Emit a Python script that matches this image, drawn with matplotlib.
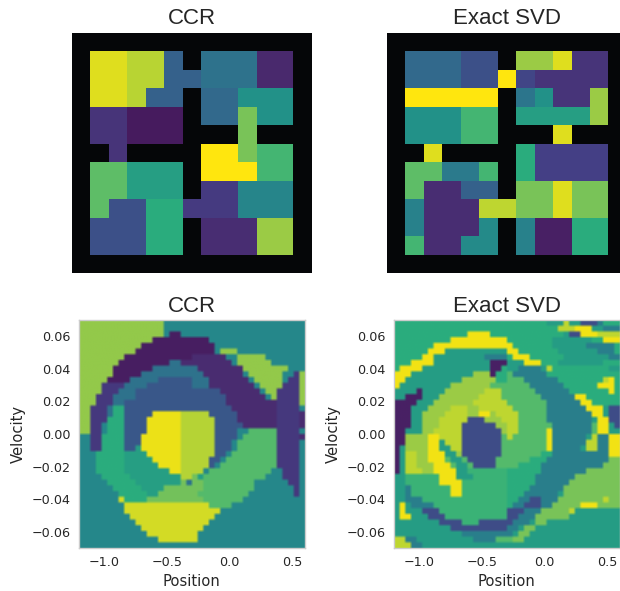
import re
import numpy as np
import matplotlib
matplotlib.use('Agg')
import matplotlib.pyplot as plt
from matplotlib.colors import LinearSegmentedColormap

W = np.nan

# colours of the printed viridis, read at even steps from 0 to 1
palette = ['#440f50', '#4a2a6e', '#443f85', '#35628c', '#2b7a8c', '#229189',
           '#2bad7d', '#5dbd68', '#93c94a', '#bdd631', '#ffe60e']

# gridworld value maps, 13x13, W is a wall
ccr_rooms = [
    [W, W, W, W, W, W, W, W, W, W, W, W, W],
    [W, .95, .95, .89, .89, .30, W, .37, .37, .37, .10, .10, W],
    [W, .95, .95, .89, .89, .30, .30, .37, .37, .37, .10, .10, W],
    [W, .95, .95, .89, .30, .30, W, .33, .33, .50, .50, .50, W],
    [W, .15, .15, .05, .05, .05, W, .33, .33, .75, .50, .50, W],
    [W, .15, .15, .05, .05, .05, W, W, W, .75, W, W, W],
    [W, W, .15, W, W, W, W, 1.0, 1.0, .75, .65, .65, W],
    [W, .70, .70, .55, .55, .55, W, 1.0, 1.0, 1.0, .65, .65, W],
    [W, .70, .70, .55, .55, .55, W, .18, .18, .45, .45, .45, W],
    [W, .70, .25, .25, .60, .60, .18, .18, .18, .45, .45, .45, W],
    [W, .25, .25, .25, .60, .60, W, .12, .12, .12, .82, .82, W],
    [W, .25, .25, .25, .60, .60, W, .12, .12, .12, .82, .82, W],
    [W, W, W, W, W, W, W, W, W, W, W, W, W],
]
svd_rooms = [
    [W, W, W, W, W, W, W, W, W, W, W, W, W],
    [W, .33, .33, .33, .25, .25, W, .82, .82, .95, .15, .15, W],
    [W, .33, .33, .33, .25, .25, 1.0, .22, .15, .15, .15, .15, W],
    [W, 1.0, 1.0, 1.0, 1.0, 1.0, W, .38, .50, .15, .15, .82, W],
    [W, .50, .50, .50, .65, .65, W, .55, .55, .55, .55, .82, W],
    [W, .50, .50, .50, .65, .65, W, W, W, .95, W, W, W],
    [W, W, .95, W, W, W, W, .60, .20, .20, .20, .20, W],
    [W, .70, .70, .40, .40, .65, W, .60, .20, .20, .20, .20, W],
    [W, .70, .12, .12, .30, .30, W, .75, .75, .95, .75, .75, W],
    [W, .43, .12, .12, .12, .90, .90, .75, .75, .95, .75, .75, W],
    [W, .43, .12, .12, .12, .47, W, .43, .07, .07, .60, .60, W],
    [W, .65, .12, .12, .47, .47, W, .43, .07, .07, .60, .60, W],
    [W, W, W, W, W, W, W, W, W, W, W, W, W],
]

# mountain car maps, 40x40 cells, letter + run length, top row first
ccr_levels = dict(g=.80, t=.46, p=.06, q=.11, v=.17, b=.27, c=.37, y=.97, l=.88,
                  m=.60, n=.55, G=.68, h=.74, L=.93)
ccr_rows = [
    'g15 t25',
    'g15 t25',
    'g15 t1 p2 t22',
    'g13 p10 t17',
    'g11 p13 t16',
    'g10 p14 t1 g3 t12',
    'g8 p12 q6 t2 g5 t7',
    'g7 p9 c2 q9 t1 g6 t6',
    'g6 p7 c8 q8 g8 t3',
    'g6 p5 c11 q7 t1 g6 t2 v1 g1',
    'g5 p4 c5 b6 c3 q7 t1 g5 t1 v2 g1',
    'g4 v4 c4 b8 c3 q8 t1 g4 v3 g1',
    'g4 v3 c3 b15 q7 t1 g2 v4 g1',
    'g3 v3 c4 b16 q7 t1 g1 v4 g1',
    'g3 v3 c2 b18 q9 v4 g1',
    'g2 v3 c1 m2 b19 q8 v4 t1',
    'g2 v3 c1 m2 b5 y5 l5 b5 q7 v4 q1',
    'g2 v3 m3 b4 y6 l6 b4 q7 v4 q1',
    'g2 v2 t1 m3 b4 y6 l6 b5 q6 v4 q1',
    'g2 v2 t1 m3 b4 y6 l6 b4 t2 G5 v4 t1',
    't2 v2 m4 b3 y7 l6 b4 t1 G6 v4 q1',
    't2 v2 m4 b3 y7 l6 b3 t1 G7 v4 t1',
    't2 v2 m4 b2 n1 y7 l6 b3 t1 G7 v4 t1',
    't3 m5 n4 y6 l6 b2 t1 G8 v4 t1',
    't3 m5 n5 y5 l5 b2 t1 G9 v4 t1',
    't3 m5 n6 y4 l5 b1 t1 G10 v4 t1',
    't3 m5 n8 y2 l4 t1 G11 t2 v3 t1',
    't4 m5 n9 l2 h1 n1 G11 t3 v3 t1',
    't5 m5 n8 h1 c1 h2 G9 t6 v2 t1',
    't6 m5 n4 h7 G9 t7 v1 t1',
    't7 m5 n2 h7 G9 t8 v1 t1',
    't7 L1 m4 h10 G7 t11',
    't8 L15 G4 t13',
    't8 L17 t15',
    't9 L15 t16',
    't10 L13 t17',
    't11 L11 t18',
    't12 L9 t19',
    't14 L7 t19',
    't40',
]

svd_levels = dict(a=.60, s=.54, y=.98, e=.82, l=.90, P=.07, B=.24, d=.42,
                  k=.68, K=.63, h=.75)
svd_rows = [
    'a20 a7 s3 l1 s2 B3 d1 a3',
    'a20 a9 l3 y3 s2 d3',
    'a13 y4 a3 a10 s1 B2 y3 l4',
    'a10 y10 a8 s7 a2 y3',
    'a7 y13 y1 a7 s6 d5 a1',
    'a6 y3 s11 y2 a7 s7 d3 a1',
    'a5 y2 s9 d4 a1 y3 a6 s8 d2',
    'a3 y4 s10 P3 s3 y3 a3 s8 a3',
    'a1 y4 s12 P2 a1 s2 d4 s1 l1 a10 s2',
    'y3 s11 e3 P1 a2 k1 d6 a13',
    'y2 s10 e6 a2 k3 d6 a8 l1 y1 a1',
    'y1 s9 e7 k3 k4 d6 a6 y3 a1',
    's4 P1 s4 e7 l3 k1 k5 d6 a7 y1 a1',
    's2 P3 s3 e7 l4 k1 k6 d6 y2 a6',
    'P4 s3 e7 l6 k7 d6 y2 a5',
    'P3 s3 e4 l3 e2 l5 l1 k6 d7 y3 s1 B2',
    'P3 s2 e4 l4 e2 y2 e1 l2 l2 k5 d8 y2 s1 B2',
    'P3 s2 e3 l5 B3 e3 l1 l2 k5 d8 s1 y2 B2',
    'P3 s2 e3 l4 B6 e2 l2 k6 d7 k1 y2 s1 B1',
    'P2 s3 e2 l5 B7 e1 l2 k5 y1 d7 k1 y2 s2',
    'P2 e4 y2 l4 B7 k1 l1 k6 y1 d6 s1 l1 d2 y2',
    'P2 e4 y2 s1 l3 B7 k1 k7 y1 d6 l2 d2 y2',
    'P1 s1 e4 y2 s2 l2 B7 k1 k7 y1 d5 s1 l2 d2 y2',
    'P1 s1 l2 e2 y3 s2 e1 B7 k1 k6 a2 d7 d3 y2',
    'P1 s1 l2 e2 y3 k1 s2 k1 B5 k2 k4 a3 d11 h2',
    'P1 s1 l2 e3 y3 k1 s2 k1 B4 k2 k2 a4 d11 h3',
    'P1 s1 l3 e2 y4 s2 K7 a6 d8 h6',
    's2 K6 y3 s3 K6 a5 d7 h8',
    's2 K6 y4 K8 a5 d6 h9',
    's2 d1 K7 y2 K8 a4 d6 h10',
    's2 d1 K7 y2 K8 a3 d6 s1 h10',
    's2 d3 K15 a2 d2 B2 d3 h8 l1 h2',
    's1 y1 s1 d4 K13 a1 d2 B3 d2 h5 y3 h4',
    's1 y1 s3 B3 K12 B3 d3 h5 l1 s8',
    's1 y2 s3 B3 K11 B2 d3 h6 s9',
    's1 s7 B4 K3 B5 B1 d3 s1 h2 s13',
    's2 s8 B10 d2 s1 h2 s15',
    's3 s9 d8 d1 s1 h2 s16',
    'l2 d2 s10 d4 k2 k1 h2 s17',
    'l3 d2 s15 s20',
]

titles_top = ['CCR', 'Exact SVD']
x_ticks = [-1.0, -0.5, 0.0, 0.5]
y_ticks = [-0.06, -0.04, -0.02, 0.00, 0.02, 0.04, 0.06]

FIG_W, FIG_H = 620, 591


def decode(rows, levels):
    out = []
    for row in rows:
        cells = []
        for letter, n in re.findall(r'([A-Za-z])(\d+)', row):
            cells += [levels[letter]] * int(n)
        if len(cells) != 40:
            raise ValueError('%s has %d cells' % (row, len(cells)))
        out.append(cells)
    return np.array(out)


def px_axes(fig, left, top, width, height):
    return fig.add_axes([left / FIG_W, 1 - (top + height) / FIG_H, width / FIG_W, height / FIG_H])


if __name__ == '__main__':
    fig = plt.figure(figsize=(FIG_W / 100, FIG_H / 100), dpi=100)
    cmap = LinearSegmentedColormap.from_list('printed_viridis', palette)
    cmap.set_bad('#050608')

    for left, grid, title in zip([72, 387], [ccr_rooms, svd_rooms], titles_top):
        ax = px_axes(fig, left, 33, 240, 240)
        ax.imshow(np.ma.masked_invalid(grid), cmap=cmap, vmin=0, vmax=1, interpolation='nearest')
        ax.set_axis_off()
        ax.text(0.5, 1.017, title, transform=ax.transAxes, ha='center', va='bottom',
                family='Liberation Sans', fontsize=16, color='#262626')

    panels = [(79, decode(ccr_rows, ccr_levels), 'CCR'), (394, decode(svd_rows, svd_levels), 'Exact SVD')]
    for left, grid, title in panels:
        ax = px_axes(fig, left, 320, 225.5, 228)
        # doubled so the soft edge stays narrow
        ax.imshow(grid.repeat(2, axis=0).repeat(2, axis=1), cmap=cmap, vmin=0, vmax=1,
                  interpolation='bilinear', extent=[-1.2, 0.6, -0.07, 0.07], aspect='auto')
        ax.set_xticks(x_ticks)
        ax.set_yticks(y_ticks)
        ax.set_yticklabels(['\u2212%.2f' % abs(v) if v < 0 else '%.2f' % v for v in y_ticks])
        ax.tick_params(length=0, pad=6, labelsize=9.2, labelcolor='#262626')
        for s in ax.spines.values():
            s.set_color('#cccccc')
            s.set_linewidth(1)
        ax.set_xlabel('Position', fontsize=10.6, color='#262626', labelpad=3)
        ax.set_ylabel('Velocity', fontsize=10.6, color='#262626', labelpad=4)
        ax.set_title(title, family='Liberation Sans', fontsize=16, color='#262626', pad=6)

    fig.savefig('out.png', dpi=100)
